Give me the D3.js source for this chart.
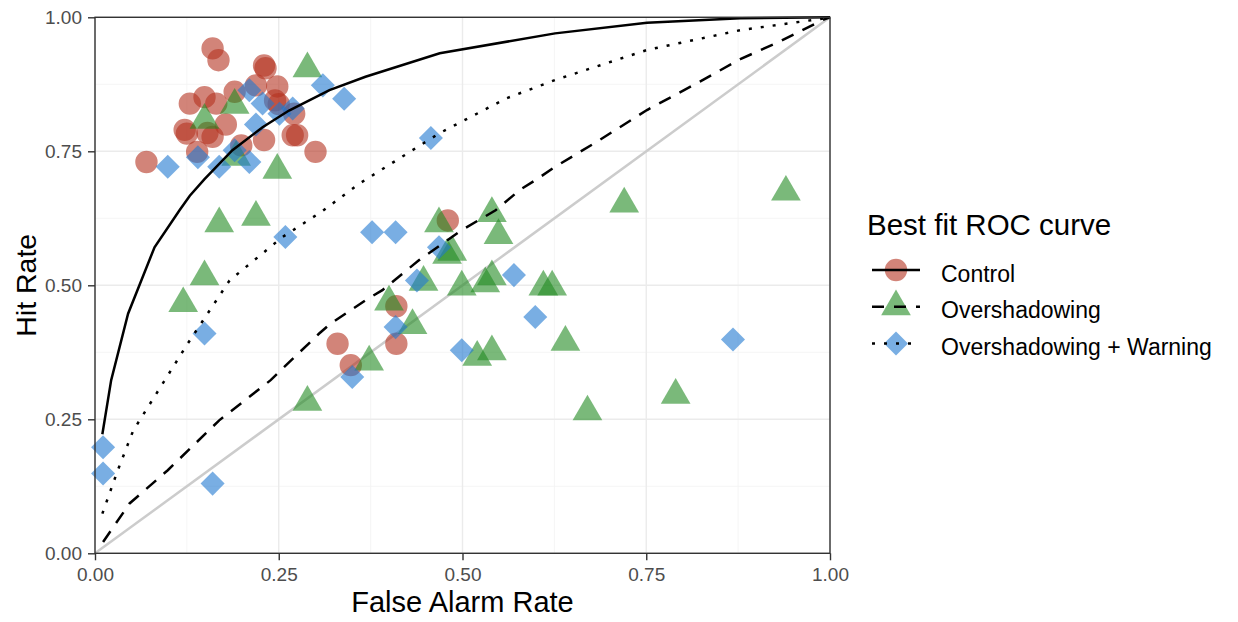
<!DOCTYPE html>
<meta charset="utf-8">
<style>
body { margin: 0; background: #fff; }
text { font-family: "Liberation Sans", Arial, sans-serif; }
.grid-major { stroke: #ebebeb; stroke-width: 1.4px; }
.grid-minor { stroke: #f3f3f3; stroke-width: 0.8px; }
.curve { fill: none; stroke: #000; stroke-width: 2.5px; }
</style>
<body>
<script src="https://cdnjs.cloudflare.com/ajax/libs/d3/7.8.5/d3.min.js"></script>
<script>

// groups
var groups = ["Control", "Overshadowing", "Overshadowing + Warning"];

// participant points: [false alarm rate, hit rate]
var controlPts = [
  [0.160, 0.942], [0.168, 0.920], [0.230, 0.910], [0.232, 0.905], [0.129, 0.839],
  [0.149, 0.851], [0.165, 0.839], [0.190, 0.861], [0.219, 0.873], [0.248, 0.871],
  [0.245, 0.845], [0.250, 0.838], [0.122, 0.790], [0.125, 0.783], [0.153, 0.784],
  [0.160, 0.777], [0.178, 0.800], [0.139, 0.749], [0.199, 0.761], [0.230, 0.771],
  [0.271, 0.820], [0.269, 0.780], [0.275, 0.780], [0.300, 0.749], [0.070, 0.730],
  [0.480, 0.621], [0.410, 0.461], [0.410, 0.391], [0.330, 0.391], [0.348, 0.351]
];

var overPts = [
  [0.289, 0.904], [0.190, 0.836], [0.149, 0.808], [0.192, 0.739], [0.248, 0.715],
  [0.169, 0.615], [0.219, 0.627], [0.149, 0.516], [0.120, 0.466], [0.468, 0.615],
  [0.540, 0.634], [0.549, 0.593], [0.486, 0.562], [0.479, 0.556], [0.447, 0.506],
  [0.499, 0.497], [0.531, 0.503], [0.540, 0.516], [0.610, 0.497], [0.622, 0.497],
  [0.400, 0.469], [0.432, 0.425], [0.640, 0.394], [0.520, 0.366], [0.540, 0.376],
  [0.373, 0.357], [0.289, 0.282], [0.720, 0.652], [0.940, 0.674], [0.790, 0.295],
  [0.670, 0.264]
];

var warnPts = [
  [0.099, 0.721], [0.140, 0.739], [0.169, 0.721], [0.210, 0.864], [0.228, 0.839],
  [0.219, 0.800], [0.190, 0.752], [0.210, 0.730], [0.251, 0.820], [0.269, 0.830],
  [0.310, 0.873], [0.339, 0.848], [0.259, 0.590], [0.149, 0.410], [0.377, 0.599],
  [0.409, 0.599], [0.468, 0.571], [0.438, 0.509], [0.570, 0.519], [0.599, 0.441],
  [0.409, 0.422], [0.499, 0.379], [0.350, 0.329], [0.011, 0.198], [0.011, 0.149],
  [0.160, 0.130], [0.868, 0.399], [0.457, 0.775]
];

// fitted ROC curves
var controlCurve = [
  [0.010, 0.222], [0.022, 0.323], [0.045, 0.447], [0.081, 0.571], [0.115, 0.640],
  [0.129, 0.667], [0.149, 0.698], [0.187, 0.752], [0.228, 0.795], [0.264, 0.826],
  [0.319, 0.864], [0.368, 0.889], [0.469, 0.933], [0.626, 0.970], [0.751, 0.990],
  [0.878, 0.998], [1.000, 1.000]
];

var overCurve = [
  [0.011, 0.021], [0.047, 0.093], [0.099, 0.155], [0.169, 0.248], [0.239, 0.323],
  [0.260, 0.351], [0.305, 0.410], [0.320, 0.428], [0.368, 0.472], [0.391, 0.491],
  [0.441, 0.547], [0.499, 0.603], [0.545, 0.640], [0.578, 0.678], [0.599, 0.696],
  [0.626, 0.721], [0.683, 0.768], [0.751, 0.827], [0.823, 0.880], [0.878, 0.922],
  [0.932, 0.955], [0.990, 0.995], [1.000, 1.000]
];

var warnCurve = [
  [0.010, 0.074], [0.031, 0.155], [0.052, 0.229], [0.095, 0.323], [0.126, 0.391],
  [0.183, 0.509], [0.255, 0.590], [0.309, 0.638], [0.360, 0.690], [0.469, 0.784],
  [0.560, 0.849], [0.626, 0.883], [0.751, 0.939], [0.878, 0.976], [0.982, 0.996],
  [1.000, 1.000]
];

var chanceLine = [[0, 0], [1, 1]];

var tickValues = [0, 0.25, 0.5, 0.75, 1];
var minorValues = [0.125, 0.375, 0.625, 0.875];

// set the dimensions and margins of the graph
var margin = {top: 17.3, right: 408, bottom: 68.7, left: 95},
    width = 1238 - margin.left - margin.right,
    height = 622 - margin.top - margin.bottom;

var x = d3.scaleLinear().domain([0, 1]).range([0, width]);
var y = d3.scaleLinear().domain([0, 1]).range([height, 0]);

var fills = ["#b4321f", "#228b22", "#1f78d1"];
var dashes = [null, "13,10", "3,9"];
var symbols = [
  d3.symbol().type(d3.symbolCircle).size(394),
  d3.symbol().type(d3.symbolTriangle).size(382),
  d3.symbol().type(d3.symbolSquare).size(289)
];
var rotations = [0, 0, 45];

var svg = d3.select("body").append("svg")
    .attr("width", 1238)
    .attr("height", 622)
  .append("g")
    .attr("transform", "translate(" + margin.left + "," + margin.top + ")");

// grid
svg.selectAll(".gmx").data(minorValues).enter().append("line")
    .attr("class", "grid-minor")
    .attr("x1", x).attr("x2", x).attr("y1", 0).attr("y2", height);
svg.selectAll(".gmy").data(minorValues).enter().append("line")
    .attr("class", "grid-minor")
    .attr("y1", y).attr("y2", y).attr("x1", 0).attr("x2", width);
svg.selectAll(".gx").data(tickValues).enter().append("line")
    .attr("class", "grid-major")
    .attr("x1", x).attr("x2", x).attr("y1", 0).attr("y2", height);
svg.selectAll(".gy").data(tickValues).enter().append("line")
    .attr("class", "grid-major")
    .attr("y1", y).attr("y2", y).attr("x1", 0).attr("x2", width);

var line = d3.line()
    .x(function(d) { return x(d[0]); })
    .y(function(d) { return y(d[1]); });

// chance diagonal
svg.append("path")
    .datum(chanceLine)
    .attr("fill", "none")
    .attr("stroke", "#cccccc")
    .attr("stroke-width", 2.5)
    .attr("d", line);

// points
[controlPts, overPts, warnPts].forEach(function(pts, i) {
  svg.append("g").selectAll("path")
      .data(pts)
      .enter().append("path")
      .attr("transform", function(d) {
        return "translate(" + x(d[0]) + "," + y(d[1]) + ") rotate(" + rotations[i] + ")";
      })
      .attr("d", symbols[i])
      .attr("fill", fills[i])
      .attr("fill-opacity", 0.6);
});

// ROC curves
[controlCurve, overCurve, warnCurve].forEach(function(c, i) {
  svg.append("path")
      .datum(c)
      .attr("class", "curve")
      .attr("stroke-dasharray", dashes[i])
      .attr("d", line);
});

// panel border
svg.append("rect")
    .attr("width", width)
    .attr("height", height)
    .attr("fill", "none")
    .attr("stroke", "#333333")
    .attr("stroke-width", 1.4);

// axes
var fmt = d3.format(".2f");
var xAxis = svg.append("g")
    .attr("transform", "translate(0," + height + ")")
    .call(d3.axisBottom(x).tickValues(tickValues).tickFormat(fmt).tickSize(7).tickPadding(7));
var yAxis = svg.append("g")
    .call(d3.axisLeft(y).tickValues(tickValues).tickFormat(fmt).tickSize(7).tickPadding(6));

[xAxis, yAxis].forEach(function(a) {
  a.select(".domain").remove();
  a.selectAll("line").attr("stroke", "#333333").attr("stroke-width", 1.4);
  a.selectAll("text")
      .attr("fill", "#4d4d4d")
      .style("font-size", "19px")
      .style("font-family", "'Liberation Sans', Arial, sans-serif");
});

// axis titles
svg.append("text")
    .attr("x", width / 2)
    .attr("y", 612 - margin.top)
    .attr("text-anchor", "middle")
    .style("font-size", "29px")
    .text("False Alarm Rate");

svg.append("text")
    .attr("transform", "translate(" + (36 - margin.left) + "," + (height / 2) + ") rotate(-90)")
    .attr("text-anchor", "middle")
    .style("font-size", "28.5px")
    .text("Hit Rate");

// legend
var legend = d3.select("svg").append("g")
    .attr("transform", "translate(867,0)");

legend.append("text")
    .attr("x", 0)
    .attr("y", 235)
    .style("font-size", "29.5px")
    .text("Best fit ROC curve");

var rows = legend.selectAll(".row")
    .data(groups)
    .enter().append("g")
    .attr("transform", function(d, i) { return "translate(0," + (270 + i * 36.7) + ")"; });

rows.append("path")
    .attr("transform", function(d, i) { return "translate(29,0) rotate(" + rotations[i] + ")"; })
    .attr("d", function(d, i) { return symbols[i](); })
    .attr("fill", function(d, i) { return fills[i]; })
    .attr("fill-opacity", 0.6);

rows.append("line")
    .attr("x1", 5)
    .attr("x2", 53)
    .attr("stroke", "#000")
    .attr("stroke-width", 2.5)
    .attr("stroke-dasharray", function(d, i) { return i === 1 ? "12,10" : dashes[i]; });

rows.append("text")
    .attr("x", 74)
    .attr("y", 11.5)
    .style("font-size", "23px")
    .text(function(d) { return d; });

</script>
</body>
